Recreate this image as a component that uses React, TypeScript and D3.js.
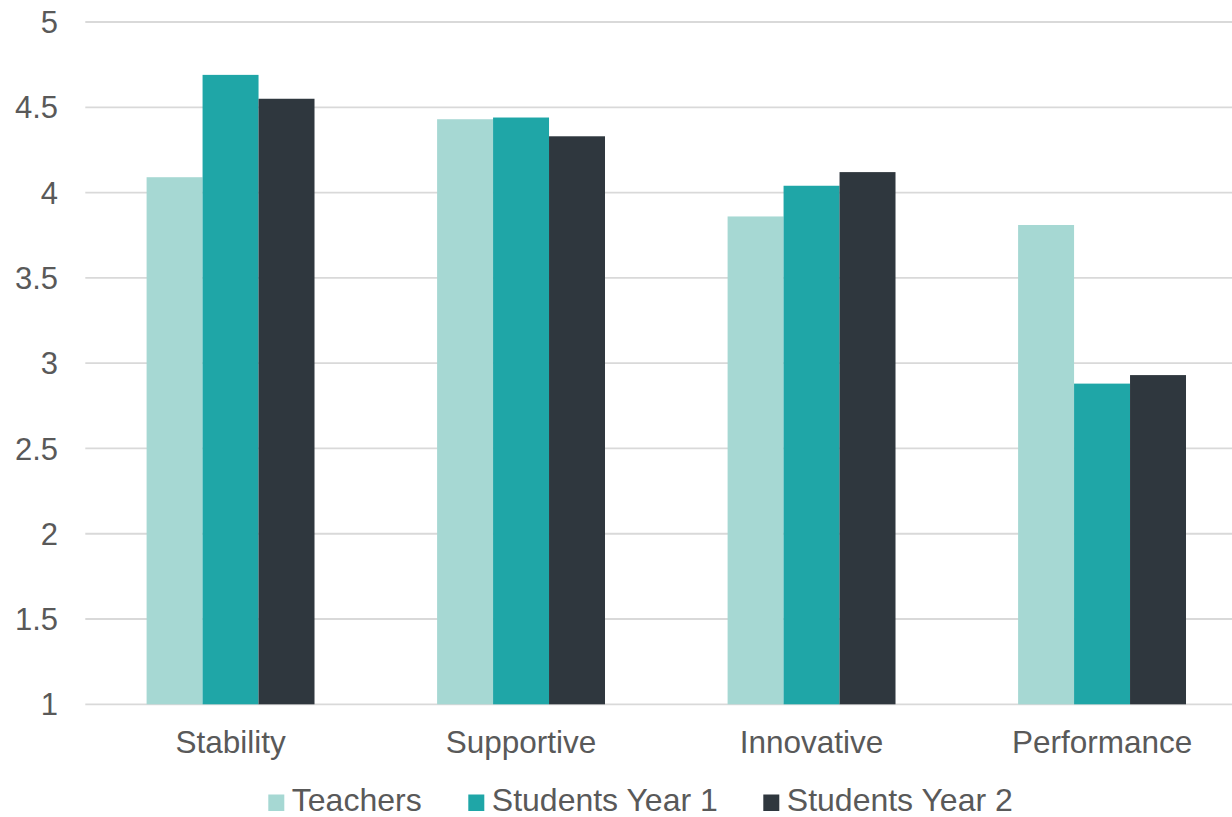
import React from "react";
import * as d3 from "d3";

const categories = ["Stability", "Supportive", "Innovative", "Performance"];
const seriesNames = ["Teachers", "Students Year 1", "Students Year 2"];
const teachers = [4.09, 4.43, 3.86, 3.81];
const studentsYear1 = [4.69, 4.44, 4.04, 2.88];
const studentsYear2 = [4.55, 4.33, 4.12, 2.93];
const yTicks = [1, 1.5, 2, 2.5, 3, 3.5, 4, 4.5, 5];
const colors = ["#A6D8D3", "#1FA6A7", "#2F373E"];

const W = 1232;
const H = 817;
const FONT = "'Liberation Sans', Arial, sans-serif";
const TEXT = "#595959";

export default function App() {
  const seriesValues = [teachers, studentsYear1, studentsYear2];
  const y = d3.scaleLinear().domain([1, 5]).range([704.3, 22]);
  const x0 = d3.scaleBand<string>().domain(categories).range([85.3, 1247.3]).padding(0);
  const bw = x0.bandwidth();
  const groupW = bw * 0.578;
  const x1 = d3
    .scaleBand<string>()
    .domain(seriesNames)
    .range([(bw - groupW) / 2, (bw + groupW) / 2])
    .padding(0);

  const legendX = [268.3, 468.3, 763.3];

  return (
    <div style={{ position: "fixed", left: 0, top: 0, width: W, height: H, background: "#fff" }}>
      <svg width={W} height={H} style={{ display: "block" }} fontFamily={FONT}>
        {yTicks.map((t) => (
          <g key={t}>
            <line x1={85.3} x2={W} y1={y(t)} y2={y(t)} stroke="#D9D9D9" strokeWidth={1.8} />
            <text x={58} y={y(t)} dy="0.36em" textAnchor="end" fontSize={31} fill={TEXT}>
              {String(t)}
            </text>
          </g>
        ))}
        {categories.map((c, ci) => (
          <g key={c} transform={`translate(${x0(c)},0)`}>
            {seriesNames.map((s, si) => {
              const v = seriesValues[si][ci];
              return (
                <rect
                  key={s}
                  x={x1(s)}
                  y={y(v)}
                  width={x1.bandwidth()}
                  height={y(1) - y(v)}
                  fill={colors[si]}
                />
              );
            })}
            <text x={bw / 2} y={753} textAnchor="middle" fontSize={31.5} fill={TEXT}>
              {c}
            </text>
          </g>
        ))}
        {seriesNames.map((s, si) => (
          <g key={s} transform={`translate(${legendX[si]},0)`}>
            <rect x={0} y={794.5} width={16} height={16.5} fill={colors[si]} />
            <text x={23.5} y={811} fontSize={32} fill={TEXT}>
              {s}
            </text>
          </g>
        ))}
      </svg>
    </div>
  );
}
